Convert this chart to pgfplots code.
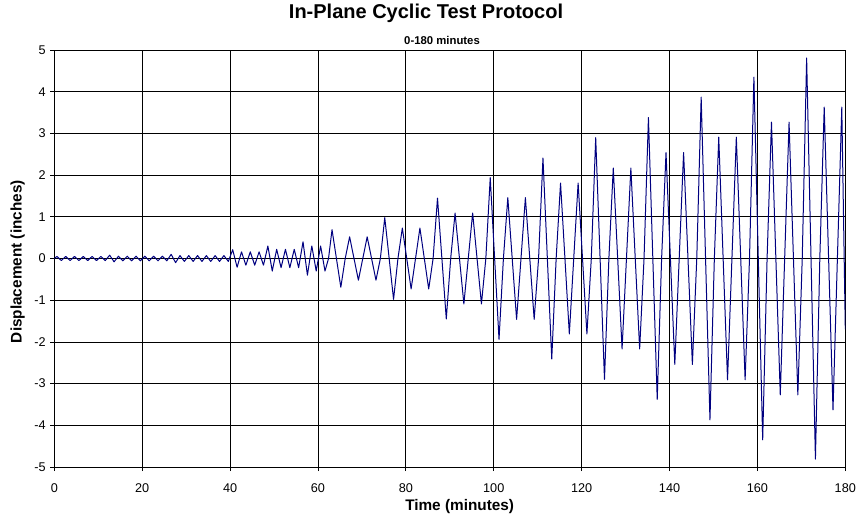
\documentclass[border=0pt]{standalone}
\usepackage{fontspec}
\setmainfont{Liberation Sans}
\usepackage{pgfplots}
\pgfplotsset{compat=1.18}
\definecolor{navy}{RGB}{0,0,128}

\begin{document}
\begin{tikzpicture}
\begin{axis}[
    at={(0pt,0pt)}, anchor=south west,
    scale only axis, width=593.25pt, height=312.75pt,
    xmin=0, xmax=180, ymin=-5, ymax=5,
    xtick={0,20,...,180}, ytick={-5,-4,...,5},
    grid=major, major grid style={black, line width=0.6pt},
    axis line style={black, line width=0.75pt},
    tick align=outside, xtick pos=bottom, ytick pos=left,
    major tick length=3pt, tick style={black, line width=0.6pt},
    /pgf/number format/assume math mode=true,
    tick label style={font=\fontsize{9.5}{11}\selectfont},
    xticklabel style={yshift=-6pt},
]
\addplot[navy, line width=0.75pt, line join=round] coordinates {
  (0,0)
  (0.6,0.05) (1.6,-0.05) (2.6,0.05) (3.6,-0.05) (4.6,0.05) (5.6,-0.05)
  (6.6,0.05) (7.6,-0.05) (8.6,0.05) (9.6,-0.05) (10.6,0.05) (11.6,-0.05)
  (12.6,0.08) (13.6,-0.08)
  (14.6,0.055) (15.6,-0.055) (16.6,0.055) (17.6,-0.055) (18.6,0.055) (19.6,-0.055)
  (20.6,0.055) (21.6,-0.055) (22.6,0.055) (23.6,-0.055) (24.6,0.055) (25.6,-0.055)
  (26.6,0.1) (27.6,-0.1)
  (28.6,0.07) (29.6,-0.07) (30.6,0.07) (31.6,-0.07) (32.6,0.07) (33.6,-0.07)
  (34.6,0.07) (35.6,-0.07) (36.6,0.07) (37.6,-0.07) (38.6,0.07) (39.6,-0.07)
  (40.6,0.21) (41.6,-0.21)
  (42.6,0.16) (43.6,-0.16) (44.6,0.16) (45.6,-0.16) (46.6,0.16) (47.6,-0.16)
  (48.6,0.3) (49.6,-0.3)
  (50.6,0.22) (51.6,-0.22) (52.6,0.22) (53.6,-0.22) (54.6,0.22) (55.6,-0.22)
  (56.6,0.4) (57.6,-0.4)
  (58.6,0.3) (59.6,-0.3) (60.6,0.3) (61.6,-0.3)
  (62.4,0)
  (63.2,0.69) (64.2,0) (65.2,-0.69) (66.2,0)
  (67.2,0.52) (68.2,0) (69.2,-0.52) (70.2,0)
  (71.2,0.52) (72.2,0) (73.2,-0.52) (74.2,0)
  (75.2,0.98) (76.2,0) (77.2,-0.98) (78.2,0)
  (79.2,0.73) (80.2,0) (81.2,-0.73) (82.2,0)
  (83.2,0.73) (84.2,0) (85.2,-0.73) (86.2,0)
  (87.2,1.45) (88.2,0) (89.2,-1.45) (90.2,0)
  (91.2,1.09) (92.2,0) (93.2,-1.09) (94.2,0)
  (95.2,1.09) (96.2,0) (97.2,-1.09) (98.2,0)
  (99.2,1.94) (100.2,0) (101.2,-1.94) (102.2,0)
  (103.2,1.46) (104.2,0) (105.2,-1.46) (106.2,0)
  (107.2,1.46) (108.2,0) (109.2,-1.46) (110.2,0)
  (111.2,2.41) (112.2,0) (113.2,-2.41) (114.2,0)
  (115.2,1.81) (116.2,0) (117.2,-1.81) (118.2,0)
  (119.2,1.81) (120.2,0) (121.2,-1.81) (122.2,0)
  (123.2,2.90) (124.2,0) (125.2,-2.90) (126.2,0)
  (127.2,2.17) (128.2,0) (129.2,-2.17) (130.2,0)
  (131.2,2.17) (132.2,0) (133.2,-2.17) (134.2,0)
  (135.2,3.38) (136.2,0) (137.2,-3.38) (138.2,0)
  (139.2,2.54) (140.2,0) (141.2,-2.54) (142.2,0)
  (143.2,2.54) (144.2,0) (145.2,-2.54) (146.2,0)
  (147.2,3.87) (148.2,0) (149.2,-3.87) (150.2,0)
  (151.2,2.91) (152.2,0) (153.2,-2.91) (154.2,0)
  (155.2,2.91) (156.2,0) (157.2,-2.91) (158.2,0)
  (159.2,4.35) (160.2,0) (161.2,-4.35) (162.2,0)
  (163.2,3.27) (164.2,0) (165.2,-3.27) (166.2,0)
  (167.2,3.27) (168.2,0) (169.2,-3.27) (170.2,0)
  (171.2,4.81) (172.2,0) (173.2,-4.81) (174.2,0)
  (175.2,3.63) (176.2,0) (177.2,-3.63) (178.2,0)
  (179.2,3.63) (180,-1.7)
};
\end{axis}
% titles and axis labels
\node[anchor=base, font=\bfseries\fontsize{15}{17}\selectfont] at (278.8pt,336pt) {In-Plane Cyclic Test Protocol};
\node[anchor=base, font=\bfseries\fontsize{8.5}{10}\selectfont] at (290.8pt,316.5pt) {0-180 minutes};
\node[anchor=base, font=\bfseries\fontsize{11.5}{13}\selectfont] at (304pt,-32.5pt) {Time (minutes)};
\node[anchor=center, rotate=90, font=\bfseries\fontsize{11.5}{13}\selectfont] at (-27.5pt,154pt) {Displacement (inches)};
\pgfresetboundingbox
\useasboundingbox (-40.725pt,-37.5pt) rectangle (603.525pt,350.25pt);
\end{tikzpicture}
\end{document}
